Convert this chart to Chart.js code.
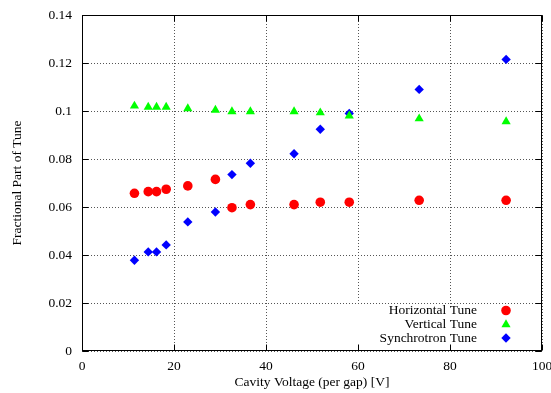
<!DOCTYPE html>
<html><head><meta charset="utf-8">
<script src="https://cdn.jsdelivr.net/npm/chart.js@4"></script>
<style>html,body{margin:0;padding:0;background:#fff}#c{display:block}</style>
</head><body>
<canvas id="c" width="551" height="393"></canvas>
<script>
const voltage = [11.4, 14.4, 16.2, 18.3, 23.0, 29.0, 32.6, 36.6, 46.1, 51.8, 58.1, 73.3, 92.2];
const horizontalTune = [0.0657, 0.0664, 0.0664, 0.0674, 0.0688, 0.0715, 0.0597, 0.0610, 0.0610, 0.0620, 0.0620, 0.0628, 0.0628];
const verticalTune = [0.1021, 0.1016, 0.1016, 0.1016, 0.1010, 0.1004, 0.0998, 0.0998, 0.0998, 0.0993, 0.0980, 0.0968, 0.0956];
const synchrotronTune = [0.0378, 0.0413, 0.0413, 0.0442, 0.0538, 0.0579, 0.0735, 0.0782, 0.0822, 0.0924, 0.0990, 0.1090, 0.1215];
const seriesNames = ['Horizontal Tune', 'Vertical Tune', 'Synchrotron Tune'];
const xTickValues = [0, 20, 40, 60, 80, 100];
const yTickValues = [0, 0.02, 0.04, 0.06, 0.08, 0.1, 0.12, 0.14];
const xTitle = 'Cavity Voltage (per gap) [V]';
const yTitle = 'Fractional Part of Tune';

const FONT = 'Liberation Serif';
const FS = 13.5;
const pts = ys => voltage.map((x, i) => ({x: x, y: ys[i]}));

const frame = {
  id: 'frame',
  beforeDatasetsDraw(chart) {
    const {ctx, chartArea: a, scales: {x, y}} = chart;
    ctx.save();
    ctx.strokeStyle = '#555';
    ctx.lineWidth = 1;
    ctx.setLineDash([1, 2]);
    xTickValues.forEach(v => {
      const px = Math.round(x.getPixelForValue(v)) + 0.5;
      ctx.beginPath(); ctx.moveTo(px, a.top); ctx.lineTo(px, a.bottom); ctx.stroke();
    });
    yTickValues.forEach(v => {
      const py = Math.round(y.getPixelForValue(v)) + 0.5;
      ctx.beginPath(); ctx.moveTo(a.left, py); ctx.lineTo(a.right, py); ctx.stroke();
    });
    ctx.setLineDash([]);
    // legend box clears the grid underneath
    ctx.fillStyle = '#fff';
    ctx.fillRect(a.left + 260, a.bottom - 47, a.right - (a.left + 260), 47);
    ctx.restore();
  },
  afterDraw(chart) {
    const {ctx, chartArea: a, scales: {x, y}} = chart;
    ctx.save();
    ctx.strokeStyle = '#000';
    ctx.lineWidth = 1;
    const L = Math.round(a.left) + 0.5, R = Math.round(a.right) - 0.5;
    const T = Math.round(a.top) + 0.5, B = Math.round(a.bottom) - 0.5;
    ctx.strokeRect(L, T, R - L, B - T);
    const tl = 6;
    ctx.beginPath();
    xTickValues.forEach(v => {
      const px = Math.round(x.getPixelForValue(v)) + 0.5;
      ctx.moveTo(px, B); ctx.lineTo(px, B - tl);
      ctx.moveTo(px, T); ctx.lineTo(px, T + tl);
    });
    yTickValues.forEach(v => {
      const py = Math.round(y.getPixelForValue(v)) + 0.5;
      ctx.moveTo(L, py); ctx.lineTo(L + tl, py);
      ctx.moveTo(R, py); ctx.lineTo(R - tl, py);
    });
    ctx.stroke();
    // legend
    ctx.font = FS + 'px "' + FONT + '"';
    ctx.textAlign = 'right';
    ctx.textBaseline = 'middle';
    const textRight = a.right - 65, markX = a.right - 36;
    const rows = [a.bottom - 40.5, a.bottom - 26.5, a.bottom - 13];
    chart.data.datasets.forEach((ds, i) => {
      ctx.fillStyle = '#000';
      ctx.fillText(ds.label, textRight, rows[i]);
      ctx.fillStyle = ds.backgroundColor;
      ctx.strokeStyle = ds.backgroundColor;
      Chart.helpers.drawPoint(ctx, {pointStyle: ds.pointStyle, radius: ds.pointRadius, rotation: 0, borderWidth: 0}, markX, rows[i]);
    });
    ctx.restore();
  }
};

new Chart(document.getElementById('c'), {
  type: 'scatter',
  data: {
    datasets: [
      {label: seriesNames[0], data: pts(horizontalTune), pointStyle: 'circle', pointRadius: 4.8, backgroundColor: '#ff0000', borderColor: '#ff0000', borderWidth: 0},
      {label: seriesNames[1], data: pts(verticalTune), pointStyle: 'triangle', pointRadius: 5.3, backgroundColor: '#00ff00', borderColor: '#00ff00', borderWidth: 0},
      {label: seriesNames[2], data: pts(synchrotronTune), pointStyle: 'rectRot', pointRadius: 4.7, backgroundColor: '#0000ff', borderColor: '#0000ff', borderWidth: 0}
    ]
  },
  options: {
    responsive: false,
    animation: false,
    layout: {padding: {top: 15, right: 9, left: 0, bottom: 0}},
    plugins: {legend: {display: false}, tooltip: {enabled: false}},
    scales: {
      x: {
        type: 'linear', min: 0, max: 100,
        afterBuildTicks: s => { s.ticks = xTickValues.map(v => ({value: v})); },
        ticks: {color: '#000', font: {family: FONT, size: FS}, padding: 7, maxRotation: 0,
                callback: v => String(v)},
        grid: {display: false, drawTicks: false},
        border: {display: false},
        title: {display: true, text: xTitle, color: '#000', font: {family: FONT, size: FS}, padding: {top: 0, bottom: 2}},
        afterFit: s => { s.height = 42; s.paddingLeft = 0; s.paddingRight = 0; }
      },
      y: {
        type: 'linear', min: 0, max: 0.14,
        afterBuildTicks: s => { s.ticks = yTickValues.map(v => ({value: v})); },
        ticks: {color: '#000', font: {family: FONT, size: FS}, padding: 10,
                callback: v => String(Number(v.toFixed(2)))},
        grid: {display: false, drawTicks: false},
        border: {display: false},
        title: {display: true, text: yTitle, color: '#000', font: {family: FONT, size: FS}, padding: {top: 9, bottom: 0}},
        afterFit: s => { s.width = 82; s.paddingTop = 0; s.paddingBottom = 0; }
      }
    }
  },
  plugins: [frame]
});
</script>
</body></html>
